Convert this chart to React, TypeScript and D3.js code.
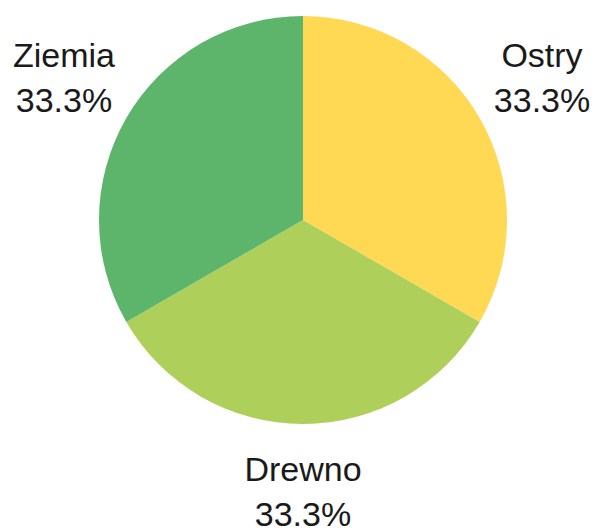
import React from 'react';
import { pie, arc } from 'd3';

const categories = ['Ostry', 'Drewno', 'Ziemia'];
const values = [1, 1, 1];
const colors = ['#FFD954', '#AED05B', '#5CB56B'];

const width = 596;
const height = 532;
const cx = 303;
const cy = 220;
const radius = 204;
const labelRadius = 276;

const App = () => {
  const total = values.reduce((a, b) => a + b, 0);
  const slices = pie<number>().sort(null)(values);
  const slicePath = arc<any>().innerRadius(0).outerRadius(radius);

  return (
    <svg
      width={width}
      height={height}
      style={{ position: 'absolute', left: 0, top: 0 }}
      fontFamily="'Liberation Sans', Arial, sans-serif"
    >
      <g transform={`translate(${cx},${cy})`}>
        {slices.map((s, i) => (
          <path key={categories[i]} d={slicePath(s) || ''} fill={colors[i]} />
        ))}
        {slices.map((s, i) => {
          const mid = (s.startAngle + s.endAngle) / 2;
          const x = labelRadius * Math.sin(mid);
          const y = -labelRadius * Math.cos(mid);
          const pct = ((values[i] / total) * 100).toFixed(1) + '%';
          return (
            <text key={'l' + i} x={x} y={y} textAnchor="middle" fontSize={34} fill="#1a1a1a">
              <tspan x={x} dy={-15}>{categories[i]}</tspan>
              <tspan x={x} dy={45}>{pct}</tspan>
            </text>
          );
        })}
      </g>
    </svg>
  );
};

export default App;
